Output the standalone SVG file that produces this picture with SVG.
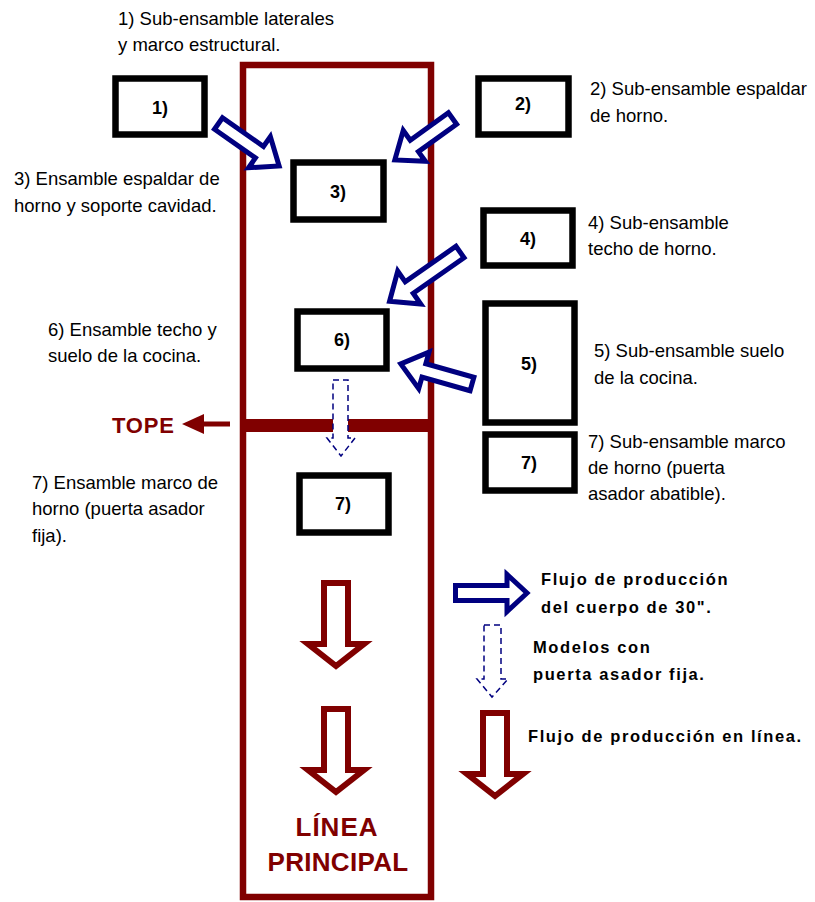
<svg xmlns="http://www.w3.org/2000/svg" width="815" height="902" viewBox="0 0 815 902">
<style>
.t{font-family:"Liberation Sans",Arial,sans-serif;font-size:18.5px;fill:#000}
.lb{font-family:"Liberation Sans",Arial,sans-serif;font-size:18px;font-weight:bold;fill:#000;text-anchor:middle}
.lg{font-family:"Liberation Sans",Arial,sans-serif;font-size:16.5px;font-weight:bold;fill:#000;letter-spacing:1.6px}
.red{font-family:"Liberation Sans",Arial,sans-serif;font-weight:bold;fill:#800000}
.box{fill:#fff;stroke:#000;stroke-width:6.5}
.blue{fill:#fff;stroke:#000080;stroke-width:5;stroke-linejoin:miter}
.dash{fill:#fff;stroke:#000080;stroke-width:1.5;stroke-dasharray:6,4}
.rarr{fill:#fff;stroke:#800000;stroke-width:6;stroke-linejoin:miter}
</style>
<rect width="815" height="902" fill="#fff"/>
<g id="main-line">
<rect x="243" y="65" width="188" height="832" fill="none" stroke="#800000" stroke-width="6.5"/>
<rect x="240" y="419" width="194" height="13" fill="#800000"/>
<text class="red" x="337" y="836" font-size="26" text-anchor="middle" letter-spacing="1">LÍNEA</text>
<text class="red" x="338" y="871" font-size="26" text-anchor="middle" letter-spacing="0.3">PRINCIPAL</text>
</g>
<g id="tope">
<text class="red" x="112" y="433" font-size="22" letter-spacing="0.8">TOPE</text>
<rect x="202" y="421.5" width="28" height="5" fill="#800000"/>
<polygon points="182,424 204,414 204,434" fill="#800000"/>
</g>
<g id="n1"><rect class="box" x="115.5" y="78.5" width="89" height="56"/><text class="lb" x="160" y="113.5">1)</text></g>
<g id="n2"><rect class="box" x="478.5" y="78.5" width="90" height="56"/><text class="lb" x="523" y="109.5">2)</text></g>
<g id="n3"><rect class="box" x="293.5" y="162.5" width="90" height="57"/><text class="lb" x="338" y="197.5">3)</text></g>
<g id="n4"><rect class="box" x="483.5" y="210.5" width="89" height="55"/><text class="lb" x="528" y="244.5">4)</text></g>
<g id="n6"><rect class="box" x="297.5" y="311.5" width="89" height="57"/><text class="lb" x="342" y="345.5">6)</text></g>
<g id="n5"><rect class="box" x="485.5" y="303.5" width="89" height="119"/><text class="lb" x="529" y="369.5">5)</text></g>
<g id="n7r"><rect class="box" x="485.5" y="434.5" width="89" height="56"/><text class="lb" x="529" y="468.5">7)</text></g>
<g id="n7c"><rect class="box" x="299.5" y="475.5" width="89" height="57"/><text class="lb" x="343" y="509.5">7)</text></g>
<g id="labels">
<text class="t" x="118" y="25">1) Sub-ensamble laterales</text>
<text class="t" x="118" y="51">y marco estructural.</text>
<text class="t" x="590" y="95">2) Sub-ensamble espaldar</text>
<text class="t" x="590" y="122">de horno.</text>
<text class="t" x="14" y="185">3) Ensamble espaldar de</text>
<text class="t" x="14" y="212">horno y soporte cavidad.</text>
<text class="t" x="588" y="229">4) Sub-ensamble</text>
<text class="t" x="588" y="255">techo de horno.</text>
<text class="t" x="48" y="336">6) Ensamble techo y</text>
<text class="t" x="48" y="362">suelo de la cocina.</text>
<text class="t" x="594" y="357">5) Sub-ensamble suelo</text>
<text class="t" x="594" y="384">de la cocina.</text>
<text class="t" x="588" y="448">7) Sub-ensamble marco</text>
<text class="t" x="588" y="474">de horno (puerta</text>
<text class="t" x="588" y="500">asador abatible).</text>
<text class="t" x="32" y="489">7) Ensamble marco de</text>
<text class="t" x="32" y="515">horno (puerta asador</text>
<text class="t" x="32" y="542">fija).</text>
</g>
<g id="connectors">
<path class="blue" transform="translate(218.5,123.5) rotate(35)" d="M0,-7 H50 V-19 L74,0 L50,19 V7 H0 Z"/>
<path class="blue" transform="translate(452.5,118.5) rotate(144.3)" d="M0,-7 H47 V-19 L71,0 L47,19 V7 H0 Z"/>
<path class="blue" transform="translate(460,252) rotate(145)" d="M0,-7 H62 V-20 L86,0 L62,20 V7 H0 Z"/>
<path class="blue" transform="translate(472,384) rotate(195.8)" d="M0,-7 H50 V-19 L74,0 L50,19 V7 H0 Z"/>
<path class="dash" d="M333,380 H348 V438 H355 L341,456 L327,438 H333 Z"/>
<path class="rarr" d="M324,583 H348 V644 H364 L336,666 L308,644 H324 Z"/>
<path class="rarr" d="M324,709 H348 V770 H364 L336,792 L308,770 H324 Z"/>
</g>
<g id="legend">
<path class="blue" d="M455.5,585.5 H507 V574.5 L527,593 L507,611.5 V600.5 H455.5 Z"/>
<text class="lg" x="541" y="585">Flujo de producción</text>
<text class="lg" x="541" y="613">del cuerpo de 30".</text>
<path class="dash" d="M484,625 H501 V679 H508 L492,697 L477,679 H484 Z"/>
<text class="lg" x="533" y="653">Modelos con</text>
<text class="lg" x="533" y="680">puerta asador fija.</text>
<path class="rarr" d="M483,713 H507 V774 H523 L495,796 L467,774 H483 Z"/>
<text class="lg" x="528" y="742">Flujo de producción en línea.</text>
</g>
</svg>
